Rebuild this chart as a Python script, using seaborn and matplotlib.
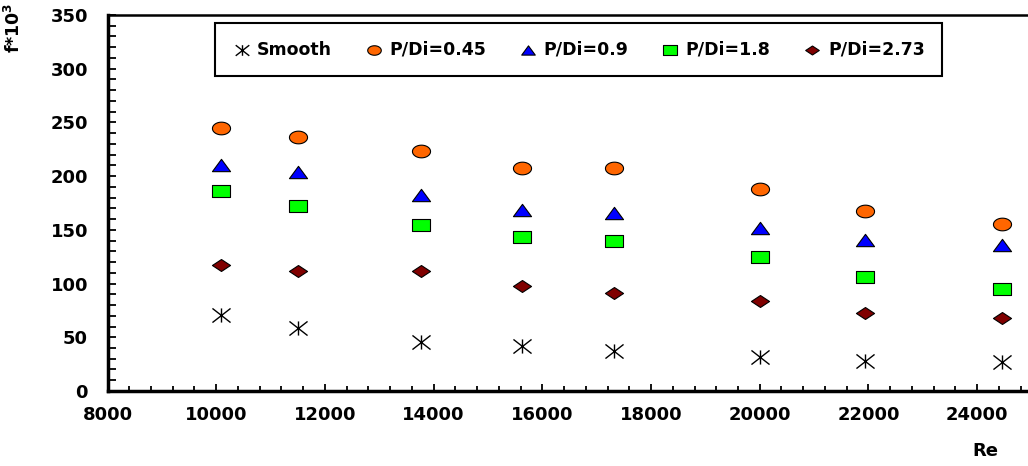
import numpy as np
import matplotlib
matplotlib.use("Agg")
import matplotlib.pyplot as plt
import seaborn as sns
from matplotlib.path import Path
from matplotlib.ticker import MultipleLocator

# data
re_vals = [10080, 11500, 13760, 15620, 17320, 20000, 21940, 24450]
smooth = [70.7, 58.4, 45.9, 42.2, 37.5, 31.9, 27.9, 27.3]
pdi_045 = [244.5, 236.8, 223.4, 207.3, 207.3, 187.7, 167.9, 155.5]
pdi_09 = [210, 204, 182, 168, 166, 152, 140.5, 135.5]
pdi_18 = [186, 172, 154.5, 143, 139.6, 124.7, 106, 94.5]
pdi_273 = [117.3, 112, 112, 98, 90.8, 84, 73, 68]
labels = ["Smooth", "P/Di=0.45", "P/Di=0.9", "P/Di=1.8", "P/Di=2.73"]
colors = ["black", "#FF6600", "#0000FF", "#00FF00", "#800000"]

# markers are a bit wider than tall in the reference
t = np.linspace(0, 2 * np.pi, 40)
ellipse = Path(np.column_stack([np.cos(t), 0.7 * np.sin(t)]), closed=True)
triangle = Path([(-1, -0.68), (1, -0.68), (0, 0.68), (-1, -0.68)], closed=True)
rect = Path([(-1, -0.7), (1, -0.7), (1, 0.7), (-1, 0.7), (-1, -0.7)], closed=True)
diamond = Path([(-1, 0), (0, 0.66), (1, 0), (0, -0.66), (-1, 0)], closed=True)
star = Path([(0, -0.78), (0, 0.78), (-1, -0.78), (1, 0.78), (-1, 0.78), (1, -0.78)],
            [Path.MOVETO, Path.LINETO, Path.MOVETO, Path.LINETO, Path.MOVETO, Path.LINETO])
markers = [star, ellipse, triangle, rect, diamond]

sns.set_style("ticks")
plt.rcParams["font.family"] = ["DejaVu Sans"]
plt.rcParams["font.weight"] = "bold"
plt.rcParams["mathtext.fontset"] = "custom"
plt.rcParams["mathtext.rm"] = "DejaVu Sans:bold"
plt.rcParams["mathtext.default"] = "rm"
for k in ["axes.edgecolor", "text.color", "axes.labelcolor", "xtick.color", "ytick.color"]:
    plt.rcParams[k] = "black"

fig = plt.figure(figsize=(10.28, 4.66), dpi=100)
ax = fig.add_axes([0.1046, 0.161, 0.8988, 0.8069])

series = [smooth, pdi_045, pdi_09, pdi_18, pdi_273]
for vals, lab, col, mk in zip(series, labels, colors, markers):
    lw = 1.0 if lab == "Smooth" else 0.8
    sns.scatterplot(x=re_vals, y=vals, ax=ax, marker=mk, s=170, color=col,
                    edgecolor="black", linewidth=lw, label=lab, zorder=3)

ax.set_xlim(8000, 25000)
ax.set_ylim(0, 350)
ax.xaxis.set_major_locator(MultipleLocator(2000))
ax.xaxis.set_minor_locator(MultipleLocator(400))
ax.yaxis.set_major_locator(MultipleLocator(50))
ax.yaxis.set_minor_locator(MultipleLocator(10))
ax.tick_params(axis="both", which="both", direction="in", width=1.3)
ax.tick_params(axis="y", which="major", length=6, pad=14, labelsize=13)
ax.tick_params(axis="y", which="minor", length=5.5)
ax.tick_params(axis="x", which="major", length=5, pad=11, labelsize=13)
ax.tick_params(axis="x", which="minor", length=3.5)
ax.tick_params(top=False, right=False, which="both")

for side in ["left", "bottom"]:
    ax.spines[side].set_linewidth(2.5)
ax.spines["top"].set_linewidth(1.8)
ax.spines["right"].set_visible(False)

ax.set_xlabel("Re", fontsize=13, fontweight="bold")
ax.xaxis.set_label_coords(0.95, -0.135)
ax.set_ylabel("f*10$^3$", fontsize=12.5, fontweight="bold")
ax.yaxis.set_label_coords(-0.09, 0.965)

leg = ax.legend(loc="center", bbox_to_anchor=(0.51, 0.908), ncol=5, fontsize=12.5,
                frameon=True, fancybox=False, framealpha=1, edgecolor="black",
                borderpad=1.0, handlelength=1.0, handletextpad=0.4,
                columnspacing=1.9, markerscale=0.75)
leg.get_frame().set_linewidth(1.5)

fig.savefig("out.png", dpi=100)
